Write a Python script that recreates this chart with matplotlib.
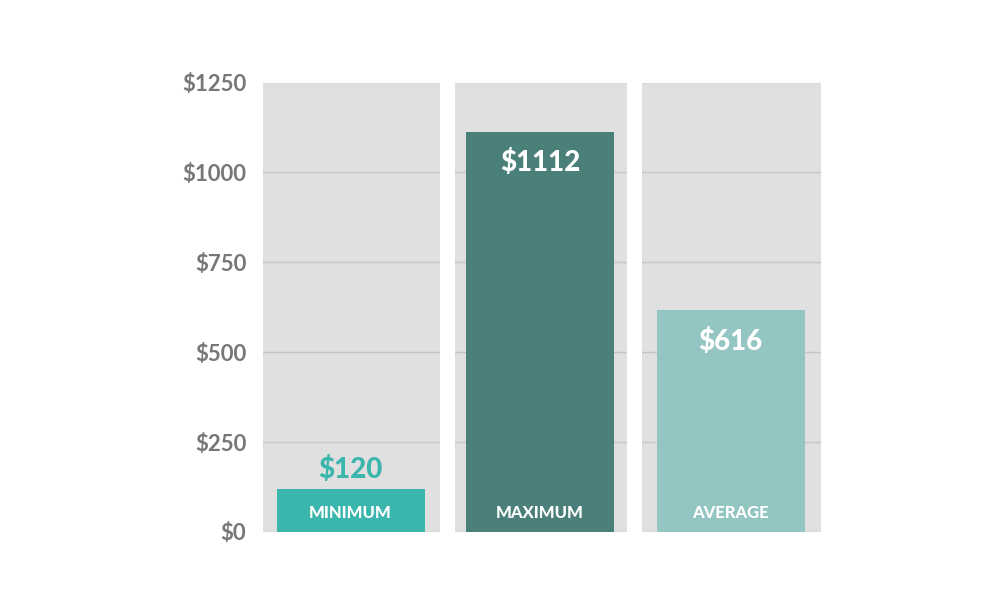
import matplotlib
matplotlib.use('Agg')
import matplotlib.pyplot as plt

plt.rcParams['font.family'] = ['Lato', 'DejaVu Sans']

categories = ['MINIMUM', 'MAXIMUM', 'AVERAGE']
values = [120, 1112, 616]
value_labels = ['$120', '$1112', '$616']
bar_colors = ['#3ab6ad', '#4a7f7a', '#93c6c2']
yticks = [0, 250, 500, 750, 1000, 1250]
ytick_labels = ['$0', '$250', '$500', '$750', '$1000', '$1250']

fig = plt.figure(figsize=(10.01, 6.14), dpi=100)

# panel extents in pixels (left, width), bars are 148 px wide
panels = [(263, 177), (455, 172), (642, 179)]
bottom = 82 / 614
height = 449.5 / 614

for i, (left, w) in enumerate(panels):
    ax = fig.add_axes([left / 1001, bottom, w / 1001, height])
    ax.set_facecolor('#e0e0e0')
    ax.set_xlim(0, 1)
    ax.set_ylim(0, 1250)
    for s in ax.spines.values():
        s.set_visible(False)
    ax.set_yticks(yticks)
    ax.grid(axis='y', color='#c6c6c6', linewidth=1)
    ax.set_axisbelow(True)
    ax.set_xticks([])
    ax.tick_params(axis='y', length=0, pad=12)
    if i == 0:
        ax.set_yticklabels(ytick_labels, fontsize=16, color='#777777', fontweight='bold')
    else:
        ax.set_yticklabels([])

    ax.bar(0.495, values[i], width=148 / w, color=bar_colors[i], zorder=3)

    if values[i] < 300:
        ax.annotate(value_labels[i], (0.495, values[i]), xytext=(0, 14), textcoords='offset points',
                    ha='center', va='center', fontsize=20, fontweight='black', color=bar_colors[i], zorder=4)
    else:
        ax.annotate(value_labels[i], (0.495, values[i]), xytext=(0, -22), textcoords='offset points',
                    ha='center', va='center', fontsize=20, fontweight='black', color='white', zorder=4)
    ax.annotate(categories[i], (0.495, 0), xytext=(0, 14), textcoords='offset points',
                ha='center', va='center', fontsize=12, fontweight='black', color='white', zorder=4)

fig.savefig('out.png', dpi=100)
